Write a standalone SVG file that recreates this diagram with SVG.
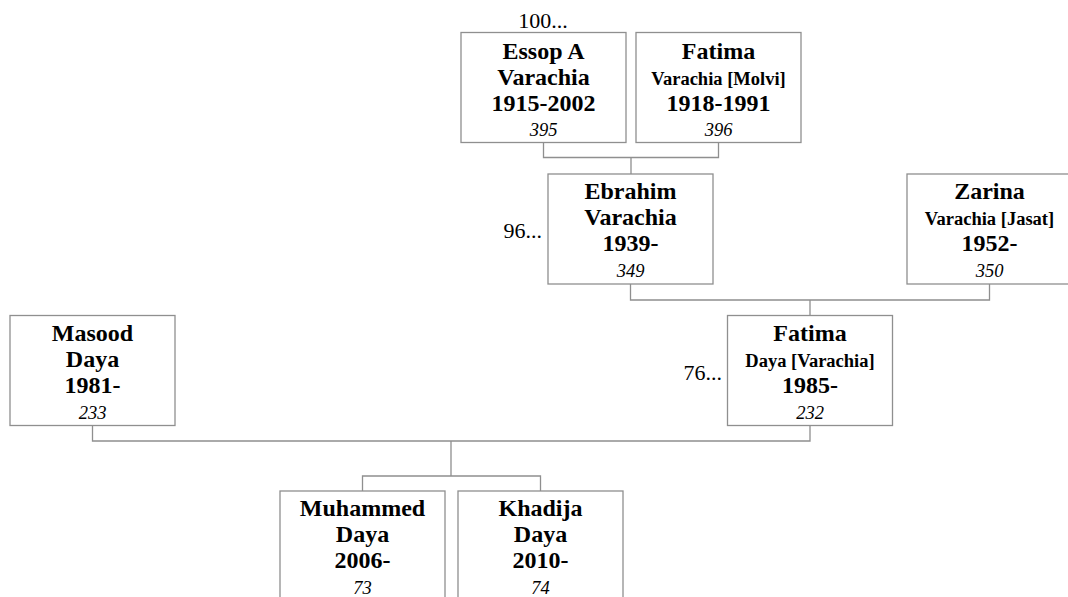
<svg xmlns="http://www.w3.org/2000/svg" width="1068" height="597" viewBox="0 0 1068 597">
<style>
  .box { fill: #ffffff; stroke: #8f8f8f; stroke-width: 1.3; }
  .conn { fill: none; stroke: #8f8f8f; stroke-width: 1.3; }
  text { font-family: "Liberation Serif", "Times New Roman", serif; fill: #000; text-anchor: middle; }
  .name { font-size: 24px; font-weight: bold; }
  .sub { font-size: 18.5px; font-weight: bold; }
  .num { font-size: 18.5px; font-style: italic; }
  .more { font-size: 22px; }
</style>
<rect width="1068" height="597" fill="#ffffff"/>
<g id="connectors">
  <path class="conn" d="M543.5 142.5 V157.5 H718.5 V142.5 M631 157.5 V174"/>
  <path class="conn" d="M630.5 284 V300 H989.5 V284 M810 300 V315.5"/>
  <path class="conn" d="M92.5 425.5 V441 H810 V425.5 M451 441 V476 M362.5 491 V476 H540.5 V491"/>
</g>
<g id="label-100"><text class="more" x="543" y="28">100...</text></g>
<g id="label-96"><text class="more" x="542" y="238" style="text-anchor:end">96...</text></g>
<g id="label-76"><text class="more" x="722" y="380" style="text-anchor:end">76...</text></g>
<g id="n395">
  <rect class="box" x="461" y="32.5" width="165" height="110"/>
  <text class="name" x="543.5" y="58.5">Essop A</text>
  <text class="name" x="543.5" y="84.5">Varachia</text>
  <text class="name" x="543.5" y="110.5">1915-2002</text>
  <text class="num" x="543.5" y="136">395</text>
</g>
<g id="n396">
  <rect class="box" x="636" y="32.5" width="165" height="110"/>
  <text class="name" x="718.5" y="58.5">Fatima</text>
  <text class="sub" x="718.5" y="84.5">Varachia [Molvi]</text>
  <text class="name" x="718.5" y="110.5">1918-1991</text>
  <text class="num" x="718.5" y="136">396</text>
</g>
<g id="n349">
  <rect class="box" x="548" y="174" width="165" height="110"/>
  <text class="name" x="630.5" y="199">Ebrahim</text>
  <text class="name" x="630.5" y="225">Varachia</text>
  <text class="name" x="630.5" y="251">1939-</text>
  <text class="num" x="630.5" y="277">349</text>
</g>
<g id="n350">
  <rect class="box" x="907" y="174" width="165" height="110"/>
  <text class="name" x="989.5" y="199">Zarina</text>
  <text class="sub" x="989.5" y="225">Varachia [Jasat]</text>
  <text class="name" x="989.5" y="251">1952-</text>
  <text class="num" x="989.5" y="277">350</text>
</g>
<g id="n233">
  <rect class="box" x="10" y="315.5" width="165" height="110"/>
  <text class="name" x="92.5" y="340.5">Masood</text>
  <text class="name" x="92.5" y="366.5">Daya</text>
  <text class="name" x="92.5" y="392.5">1981-</text>
  <text class="num" x="92.5" y="419">233</text>
</g>
<g id="n232">
  <rect class="box" x="727.5" y="315.5" width="165" height="110"/>
  <text class="name" x="810" y="340.5">Fatima</text>
  <text class="sub" x="810" y="366.5">Daya [Varachia]</text>
  <text class="name" x="810" y="392.5">1985-</text>
  <text class="num" x="810" y="419">232</text>
</g>
<g id="n73">
  <rect class="box" x="280" y="491" width="165" height="110"/>
  <text class="name" x="362.5" y="516">Muhammed</text>
  <text class="name" x="362.5" y="542">Daya</text>
  <text class="name" x="362.5" y="568">2006-</text>
  <text class="num" x="362.5" y="594">73</text>
</g>
<g id="n74">
  <rect class="box" x="458" y="491" width="165" height="110"/>
  <text class="name" x="540.5" y="516">Khadija</text>
  <text class="name" x="540.5" y="542">Daya</text>
  <text class="name" x="540.5" y="568">2010-</text>
  <text class="num" x="540.5" y="594">74</text>
</g>
</svg>
